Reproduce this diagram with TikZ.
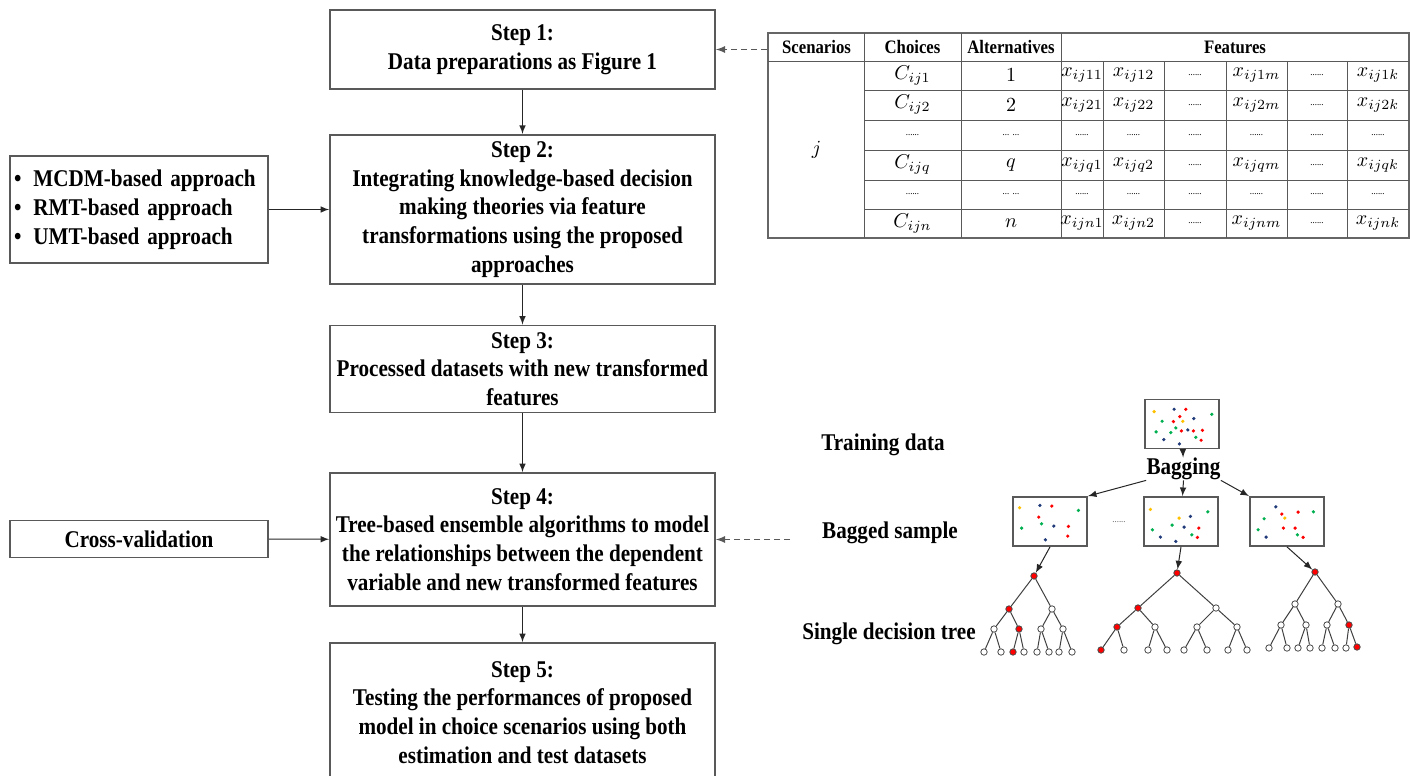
\documentclass[tikz,border=0pt]{standalone}
\usepackage{fontspec}
\setmainfont{Liberation Serif}[FakeStretch=0.88]
\usepackage{tikz}
\usetikzlibrary{arrows,positioning,calc}
\definecolor{boxline}{HTML}{595959}
\definecolor{dotred}{HTML}{FF0000}
\definecolor{dotblue}{HTML}{203A7A}
\definecolor{dotgreen}{HTML}{00B050}
\definecolor{dotyellow}{HTML}{FFC000}
\newcommand{\dotsrow}{{\tiny......}}
\newcommand{\dotsalt}{{\tiny...\,\,...}}

\tikzset{
  stepbox/.style={draw=boxline, line width=0.8pt, minimum width=192.5pt, inner xsep=1pt,
    align=center, font=\fontsize{12}{14.4}\selectfont\bfseries},
  sidebox/.style={draw=boxline, line width=0.8pt, minimum width=129pt,
    font=\fontsize{12}{14.4}\selectfont\bfseries},
  flow/.style={->, >=latex, line width=0.5pt, black!85},
  dasharrow/.style={->, >=latex, dashed, dash pattern=on 3pt off 2pt, line width=0.6pt, boxline},
  sample/.style={draw=boxline, line width=0.9pt, minimum width=37pt, minimum height=24.5pt},
  tnode/.style={circle, draw=black!70, line width=0.4pt, inner sep=0pt, minimum size=3.2pt},
  tedge/.style={line width=0.5pt, black!75},
  lbl/.style={inner sep=0pt, font=\fontsize{12}{14.4}\selectfont\bfseries},
  grid/.style={line width=0.5pt, black!65},
  cell/.style={inner sep=0pt, font=\fontsize{10}{12}\selectfont},
  head/.style={inner sep=0pt, font=\fontsize{9.5}{11}\selectfont\bfseries},
}

\begin{document}
\begin{tikzpicture}[x=0.5pt, y=-0.5pt]
  \useasboundingbox (0,0) rectangle (1410,776);
  \clip (0,0) rectangle (1410,776);

  % Main steps
  \node[stepbox, minimum height=39.5pt] (step1) at (522.5,49.5) {Step 1:\\Data preparations as Figure 1};
  \node[stepbox, minimum height=73.5pt] (step2) at (522.5,209.5) {Step 2:\\Integrating knowledge-based decision\\making theories via feature\\transformations using the proposed\\approaches};
  \node[stepbox, minimum height=39pt] (step3) at (522.5,369) {Step 3:\\Processed datasets with new transformed\\features};
  \node[stepbox, minimum height=66.5pt] (step4) at (522.5,539.5) {Step 4:\\Tree-based ensemble algorithms to model\\the relationships between the dependent\\variable and new transformed features};
  \node[stepbox, minimum height=69.5pt] (step5) at (522.5,712.5) {Step 5:\\Testing the performances of proposed\\model in choice scenarios using both\\estimation and test datasets};

  % Inputs on the left
  \node[sidebox, minimum height=53.5pt, text width=125pt, inner xsep=2pt, align=left] (approaches) at (139,209.5)
    {\textbullet\hspace{6pt}MCDM-based approach\\\textbullet\hspace{6pt}RMT-based approach\\\textbullet\hspace{6pt}UMT-based approach};
  \node[sidebox, minimum height=18.5pt] (cv) at (139,539) {Cross-validation};

  \draw[flow] (step1) -- (step2);
  \draw[flow] (step2) -- (step3);
  \draw[flow] (step3) -- (step4);
  \draw[flow] (step4) -- (step5);
  \draw[flow] (approaches) -- (step2);
  \draw[flow] (cv) -- (step4);

  % Data table
  \node[draw=black!60, line width=1pt, minimum width=320.5pt, minimum height=102.5pt, inner sep=0pt] (tbl) at (1088.5,135.5) {};
  \foreach \x in {864,961,1061} \draw[grid] (\x,33) -- (\x,238);
  \foreach \x in {1103,1164,1226,1287,1347} \draw[grid] (\x,61) -- (\x,238);
  \draw[grid] (768,61) -- (1409,61);
  \foreach \y in {90,120,150,180,209} \draw[grid] (864,\y) -- (1409,\y);

  \node[head] (hScen) at (816.5,47) {Scenarios};
  \node[head] (hChoi) at (912.5,47) {Choices};
  \node[head] (hAlt) at (1011,47) {Alternatives};
  \node[head] (hFeat) at (1235,47) {Features};
  \node[cell] (scen) at (816.5,150) {$j$};

  \foreach \i/\y in {1/75.5, 2/105, q/165, n/223.5} {
    \node[cell] (ch\i) at (912.5,\y) {$C_{ij\i}$};
    \node[cell] (al\i) at (1011,\y) {$\i$};
    \node[cell] (fa\i) at (1082,\y) {$x_{ij\i1}$};
    \node[cell] (fb\i) at (1133.5,\y) {$x_{ij\i2}$};
    \node[cell] (fc\i) at (1195,\y) {\dotsrow};
    \node[cell] (fd\i) at (1256.5,\y) {$x_{ij\i m}$};
    \node[cell] (fe\i) at (1317,\y) {\dotsrow};
    \node[cell] (ff\i) at (1378,\y) {$x_{ij\i k}$};
  }
  \foreach \r/\y in {3/135, 5/194.5} {
    \node[cell] (ch\r) at (912.5,\y) {\dotsrow};
    \node[cell] (al\r) at (1011,\y) {\dotsalt};
    \foreach \c/\x in {a/1082, b/1133.5, c/1195, d/1256.5, e/1317, f/1378}
      \node[cell] (f\c\r) at (\x,\y) {\dotsrow};
  }

  \draw[dasharrow] (tbl.west |- step1.east) -- (step1.east);

  % Bagging and trees
  \node[lbl] (trainlbl) at (883,445) {Training data};
  \node[lbl] (baglbl) at (890,533) {Bagged sample};
  \node[lbl] (treelbl) at (889,634) {Single decision tree};

  \node[sample] (train) at (1182,424) {};
  \node[lbl] (bagging) at (1183.5,469) {Bagging};
  \node[sample] (bagL) at (1050,521.5) {};
  \node[sample] (bagM) at (1181,521.5) {};
  \node[sample] (bagR) at (1287,521.5) {};
  \node[inner sep=0pt, font=\tiny, text=black!60] (bagdots) at (1119,522) {......};

  \begin{scope}[shift={(train.north west)}]
    \foreach \dx/\dy/\c in {10/13/dotyellow, 30/10.7/dotblue, 41.7/10.7/dotred, 67.7/15.7/dotgreen,
        18/22.7/dotgreen, 29.3/23/dotred, 35.7/18/dotred, 38.7/22.7/dotyellow, 49.7/20/dotblue,
        12/33.3/dotgreen, 26.7/34/dotgreen, 31.7/29.3/dotgreen, 37.3/32.3/dotred, 43.7/31.3/dotblue,
        49.3/32.3/dotred, 58.3/31.7/dotred, 51.7/38.7/dotgreen, 57/41.7/dotred, 19.7/41/dotblue, 35.3/45.3/dotblue}
      \fill[\c] (\dx,\dy) circle[radius=0.9pt];
  \end{scope}
  \begin{scope}[shift={(bagL.north west)}]
    \foreach \dx/\dy/\c in {7.5/11.7/dotyellow, 27.8/9.3/dotblue, 39.7/10/dotred, 66.3/14.3/dotgreen,
        26.6/21/dotred, 29.4/27.7/dotgreen, 41.7/30/dotblue, 56.3/30.3/dotred, 9.5/32/dotgreen,
        55.6/40/dotred, 33.3/43.7/dotblue}
      \fill[\c] (\dx,\dy) circle[radius=0.9pt];
  \end{scope}
  \begin{scope}[shift={(bagM.north west)}]
    \foreach \dx/\dy/\c in {7.3/13.3/dotyellow, 64.7/15.7/dotgreen, 36/22/dotyellow, 47.3/20.3/dotblue,
        9.3/33.7/dotgreen, 29/29/dotgreen, 41/31/dotblue, 55.7/32/dotred, 48.7/38.7/dotgreen,
        54.3/41.3/dotred, 17.3/41/dotblue, 32.7/45.3/dotblue}
      \fill[\c] (\dx,\dy) circle[radius=0.9pt];
  \end{scope}
  \begin{scope}[shift={(bagR.north west)}]
    \foreach \dx/\dy/\c in {26.7/10.7/dotblue, 32.7/18/dotred, 49/16/dotred, 64.3/15.7/dotgreen,
        35.7/22/dotyellow, 15/22.7/dotgreen, 34.3/32/dotred, 46/32/dotred, 9/33.7/dotgreen,
        48.3/38.7/dotgreen, 54/41.3/dotred, 17/41/dotblue}
      \fill[\c] (\dx,\dy) circle[radius=0.9pt];
  \end{scope}

  \draw[flow] (train) -- (bagging);
  \draw[flow] (bagging.south) -- (bagM);
  \draw[flow] (bagging.south west) -- (bagL.north east);
  \draw[flow] (bagging.south east) -- (bagR.north west);

  % Decision trees
  \foreach \n/\x/\y/\f in {
      a0/1034/576/dotred, a1/1009/609/dotred, a2/1052/609/white,
      a11/994/629/white, a12/1019/629/dotred, a21/1041/629/white, a22/1063/629/white,
      a111/984/652/white, a112/1001/652/white, a121/1013/652/dotred, a122/1024/652/white,
      a211/1037/652/white, a212/1049/652/white, a221/1059/652/white, a222/1072/652/white,
      b0/1177/573/dotred, b1/1138/608/dotred, b2/1216/608/white,
      b11/1117/627/dotred, b12/1155/627/white, b21/1197/627/white, b22/1237/627/white,
      b111/1101/650/dotred, b112/1124/650/white, b121/1148/650/white, b122/1167/650/white,
      b211/1184/650/white, b212/1207/650/white, b221/1228/650/white, b222/1247/650/white,
      c0/1315/572/dotred, c1/1295/604/white, c2/1338/604/white,
      c11/1281/625/white, c12/1306/625/white, c21/1327/625/white, c22/1349/625/dotred,
      c111/1269/648/white, c112/1287/648/white, c121/1298/648/white, c122/1310/648/white,
      c211/1322/648/white, c212/1335/648/white, c221/1346/648/white, c222/1357/647/dotred}
    \node[tnode, fill=\f] (\n) at (\x,\y) {};
  \foreach \t in {a,b,c}
    \foreach \p/\k in {0/1,0/2,1/11,1/12,2/21,2/22,11/111,11/112,12/121,12/122,21/211,21/212,22/221,22/222}
      \draw[tedge] (\t\p) -- (\t\k);

  \draw[flow] (bagL.south) -- (a0);
  \draw[flow] (bagM.south) -- (b0);
  \draw[flow] (bagR.south) -- (c0);

  \coordinate (bagsrc) at (790,539.5);
  \draw[dasharrow] (bagsrc) -- (step4.east);
\end{tikzpicture}
\end{document}
